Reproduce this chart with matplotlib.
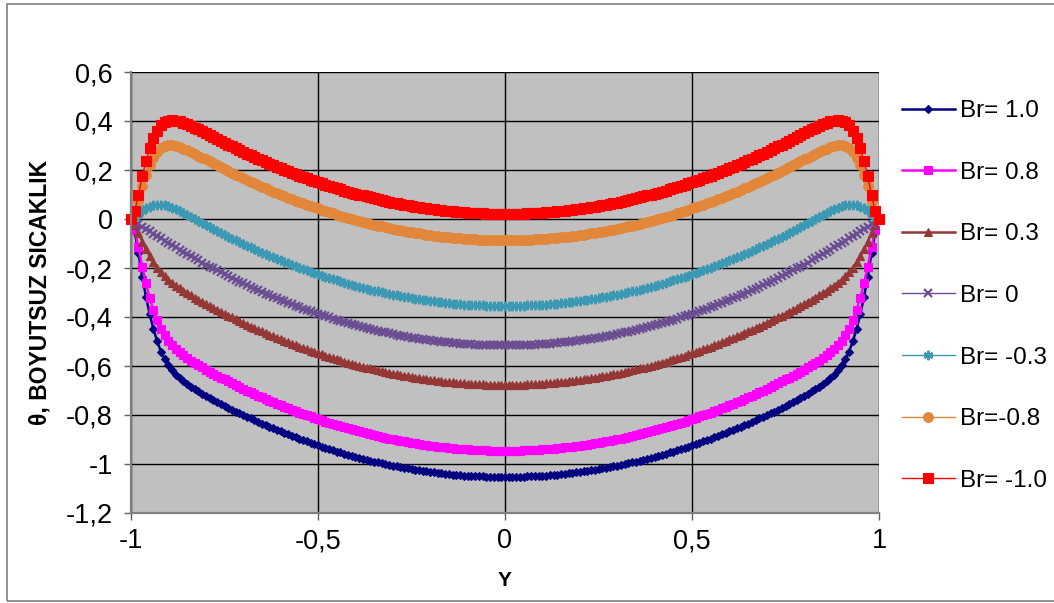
import numpy as np
import matplotlib
matplotlib.use("Agg")
import matplotlib.pyplot as plt
from matplotlib.patches import Rectangle

# Y positions of the computed points (step 0.01 from -1 to 1)
Y = np.round(np.linspace(-1.0, 1.0, 201), 2)

# Read values for Y = -1.00 ... 0.00 (profiles are symmetric about Y = 0)
br_1_0 = [0, -0.053, -0.139, -0.235, -0.317, -0.389, -0.449, -0.499, -0.541, -0.572,
          -0.597, -0.618, -0.635, -0.649, -0.662, -0.673, -0.684, -0.694, -0.704, -0.713,
          -0.722, -0.731, -0.739, -0.747, -0.755, -0.763, -0.770, -0.778, -0.786, -0.793,
          -0.800, -0.807, -0.814, -0.821, -0.828, -0.835, -0.842, -0.848, -0.855, -0.861,
          -0.867, -0.873, -0.879, -0.885, -0.891, -0.897, -0.903, -0.908, -0.914, -0.919,
          -0.924, -0.929, -0.934, -0.939, -0.944, -0.949, -0.953, -0.958, -0.962, -0.966,
          -0.970, -0.975, -0.979, -0.982, -0.986, -0.990, -0.993, -0.997, -1.000, -1.003,
          -1.007, -1.010, -1.013, -1.015, -1.018, -1.021, -1.023, -1.026, -1.028, -1.030,
          -1.032, -1.034, -1.036, -1.038, -1.040, -1.041, -1.043, -1.044, -1.046, -1.047,
          -1.048, -1.049, -1.050, -1.051, -1.051, -1.052, -1.052, -1.053, -1.053, -1.053,
          -1.053]
br_0_8 = [0, -0.045, -0.115, -0.194, -0.262, -0.321, -0.372, -0.413, -0.449, -0.475,
          -0.498, -0.516, -0.531, -0.544, -0.556, -0.567, -0.578, -0.588, -0.597, -0.606,
          -0.615, -0.624, -0.632, -0.640, -0.648, -0.655, -0.663, -0.671, -0.678, -0.686,
          -0.693, -0.700, -0.707, -0.714, -0.721, -0.728, -0.734, -0.741, -0.747, -0.754,
          -0.760, -0.766, -0.772, -0.778, -0.784, -0.790, -0.795, -0.801, -0.806, -0.811,
          -0.817, -0.822, -0.827, -0.832, -0.836, -0.841, -0.846, -0.850, -0.855, -0.859,
          -0.863, -0.867, -0.871, -0.875, -0.879, -0.882, -0.886, -0.889, -0.893, -0.896,
          -0.899, -0.902, -0.905, -0.908, -0.911, -0.913, -0.916, -0.918, -0.921, -0.923,
          -0.925, -0.927, -0.929, -0.931, -0.932, -0.934, -0.936, -0.937, -0.938, -0.939,
          -0.940, -0.941, -0.942, -0.943, -0.944, -0.944, -0.945, -0.945, -0.945, -0.946,
          -0.946]
br_0_3 = [0, -0.023, -0.056, -0.092, -0.124, -0.152, -0.177, -0.199, -0.218, -0.234,
          -0.248, -0.260, -0.272, -0.283, -0.293, -0.302, -0.312, -0.321, -0.330, -0.338,
          -0.347, -0.355, -0.363, -0.371, -0.379, -0.387, -0.395, -0.402, -0.410, -0.417,
          -0.424, -0.431, -0.439, -0.446, -0.452, -0.459, -0.466, -0.472, -0.479, -0.485,
          -0.491, -0.498, -0.504, -0.510, -0.515, -0.521, -0.527, -0.532, -0.538, -0.543,
          -0.548, -0.553, -0.558, -0.563, -0.568, -0.573, -0.577, -0.582, -0.586, -0.590,
          -0.595, -0.599, -0.603, -0.607, -0.610, -0.614, -0.618, -0.621, -0.624, -0.628,
          -0.631, -0.634, -0.637, -0.640, -0.642, -0.645, -0.647, -0.650, -0.652, -0.654,
          -0.657, -0.659, -0.660, -0.662, -0.664, -0.666, -0.667, -0.668, -0.670, -0.671,
          -0.672, -0.673, -0.674, -0.675, -0.675, -0.676, -0.676, -0.677, -0.677, -0.677,
          -0.677]
br_0 = [0, -0.010, -0.020, -0.031, -0.041, -0.050, -0.060, -0.070, -0.079, -0.089,
        -0.098, -0.107, -0.116, -0.125, -0.134, -0.143, -0.152, -0.161, -0.169, -0.178,
        -0.186, -0.194, -0.202, -0.210, -0.218, -0.226, -0.233, -0.241, -0.249, -0.256,
        -0.263, -0.270, -0.277, -0.284, -0.291, -0.298, -0.305, -0.311, -0.318, -0.324,
        -0.330, -0.336, -0.342, -0.348, -0.354, -0.360, -0.366, -0.371, -0.377, -0.382,
        -0.387, -0.392, -0.397, -0.402, -0.407, -0.412, -0.416, -0.421, -0.425, -0.429,
        -0.433, -0.438, -0.442, -0.445, -0.449, -0.453, -0.456, -0.460, -0.463, -0.466,
        -0.470, -0.473, -0.476, -0.478, -0.481, -0.484, -0.486, -0.489, -0.491, -0.493,
        -0.495, -0.497, -0.499, -0.501, -0.503, -0.504, -0.506, -0.507, -0.509, -0.510,
        -0.511, -0.512, -0.513, -0.514, -0.514, -0.515, -0.515, -0.516, -0.516, -0.516,
        -0.516]
br_m0_3 = [0, 0.003, 0.015, 0.031, 0.043, 0.051, 0.057, 0.059, 0.059, 0.056,
           0.052, 0.046, 0.039, 0.032, 0.024, 0.016, 0.008, 0.000, -0.009, -0.017,
           -0.025, -0.033, -0.041, -0.049, -0.057, -0.065, -0.072, -0.080, -0.087, -0.095,
           -0.102, -0.109, -0.116, -0.123, -0.130, -0.137, -0.144, -0.150, -0.157, -0.163,
           -0.169, -0.175, -0.181, -0.187, -0.193, -0.199, -0.204, -0.210, -0.215, -0.221,
           -0.226, -0.231, -0.236, -0.241, -0.246, -0.250, -0.255, -0.260, -0.264, -0.268,
           -0.272, -0.276, -0.280, -0.284, -0.288, -0.292, -0.295, -0.299, -0.302, -0.305,
           -0.309, -0.312, -0.314, -0.317, -0.320, -0.323, -0.325, -0.328, -0.330, -0.332,
           -0.334, -0.336, -0.338, -0.340, -0.342, -0.343, -0.345, -0.346, -0.348, -0.349,
           -0.350, -0.351, -0.352, -0.352, -0.353, -0.354, -0.354, -0.354, -0.355, -0.355,
           -0.355]
br_m0_8 = [0, 0.024, 0.074, 0.133, 0.181, 0.220, 0.251, 0.274, 0.290, 0.298,
           0.302, 0.301, 0.298, 0.294, 0.287, 0.281, 0.274, 0.267, 0.259, 0.251,
           0.243, 0.236, 0.228, 0.220, 0.212, 0.204, 0.196, 0.189, 0.181, 0.174,
           0.166, 0.159, 0.152, 0.145, 0.138, 0.132, 0.125, 0.118, 0.112, 0.106,
           0.099, 0.093, 0.087, 0.081, 0.075, 0.070, 0.064, 0.059, 0.053, 0.048,
           0.043, 0.038, 0.033, 0.028, 0.023, 0.018, 0.014, 0.009, 0.005, 0.000,
           -0.004, -0.008, -0.012, -0.016, -0.020, -0.023, -0.027, -0.030, -0.034, -0.037,
           -0.040, -0.043, -0.046, -0.049, -0.052, -0.054, -0.057, -0.059, -0.061, -0.064,
           -0.066, -0.068, -0.070, -0.072, -0.073, -0.075, -0.076, -0.078, -0.079, -0.080,
           -0.081, -0.082, -0.083, -0.084, -0.085, -0.085, -0.086, -0.086, -0.086, -0.086,
           -0.086]
br_m1_0 = [0, 0.033, 0.098, 0.174, 0.236, 0.288, 0.329, 0.360, 0.383, 0.395,
           0.401, 0.403, 0.402, 0.398, 0.393, 0.387, 0.380, 0.373, 0.366, 0.358,
           0.351, 0.343, 0.335, 0.327, 0.319, 0.311, 0.304, 0.296, 0.289, 0.281,
           0.274, 0.267, 0.260, 0.253, 0.246, 0.239, 0.232, 0.226, 0.219, 0.213,
           0.207, 0.201, 0.195, 0.189, 0.183, 0.177, 0.171, 0.166, 0.161, 0.155,
           0.150, 0.145, 0.140, 0.135, 0.130, 0.126, 0.121, 0.116, 0.112, 0.108,
           0.104, 0.100, 0.096, 0.092, 0.088, 0.084, 0.081, 0.077, 0.074, 0.071,
           0.067, 0.064, 0.062, 0.059, 0.056, 0.053, 0.051, 0.048, 0.046, 0.044,
           0.042, 0.040, 0.038, 0.036, 0.034, 0.033, 0.031, 0.030, 0.028, 0.027,
           0.026, 0.025, 0.024, 0.024, 0.023, 0.022, 0.022, 0.021, 0.021, 0.021,
           0.021]

labels = ["Br= 1.0", "Br= 0.8", "Br= 0.3", "Br= 0", "Br= -0.3", "Br=-0.8", "Br= -1.0"]
halves = [br_1_0, br_0_8, br_0_3, br_0, br_m0_3, br_m0_8, br_m1_0]

xticks = [-1, -0.5, 0, 0.5, 1]
xticklabels = ["-1", "-0,5", "0", "0,5", "1"]
yticks = [-1.2, -1.0, -0.8, -0.6, -0.4, -0.2, 0, 0.2, 0.4, 0.6]
yticklabels = ["-1,2", "-1", "-0,8", "-0,6", "-0,4", "-0,2", "0", "0,2", "0,4", "0,6"]

styles = [
    dict(color="#000080", marker="D", ms=4.5, lw=1.8, mew=0.8),
    dict(color="#FF00FF", marker="s", ms=5.6, lw=1.8, mew=0.8),
    dict(color="#953735", marker="^", ms=6.2, lw=1.8, mew=0.8),
    dict(color="#6B4E92", marker="x", ms=6.4, lw=1.0, mew=1.6),
    dict(color="#3C99B4", marker=(6, 2, 0), ms=6.8, lw=1.0, mew=1.6),
    dict(color="#E2863A", marker="o", ms=7.0, lw=1.0, mew=0.8),
    dict(color="#FF0000", marker="s", ms=7.2, lw=1.0, mew=0.8),
]

plt.rcParams["font.family"] = ["Liberation Sans", "DejaVu Sans"]

W, H = 1054, 603
fig = plt.figure(figsize=(W / 100, H / 100), dpi=100)
fig.patch.set_facecolor("white")

L, R, T, B = 131, 879, 72, 513
ax = fig.add_axes([L / W, 1 - B / H, (R - L) / W, (B - T) / H])
ax.set_facecolor("#C0C0C0")

for half, lab, st in zip(halves, labels, styles):
    full = list(half) + list(half[-2::-1])
    ax.plot(Y, full, label=lab, color=st["color"], marker=st["marker"],
            markersize=st["ms"], linewidth=st["lw"], markeredgewidth=st["mew"],
            markeredgecolor=st["color"], markerfacecolor=st["color"], clip_on=False)

ax.set_xlim(-1, 1)
ax.set_ylim(-1.2, 0.6)
ax.set_xticks(xticks)
ax.set_xticklabels(xticklabels)
ax.set_yticks(yticks)
ax.set_yticklabels(yticklabels)
ax.grid(True, color="black", linewidth=1.0)
ax.set_axisbelow(True)
for s in ["top", "right"]:
    ax.spines[s].set_visible(False)
for s in ["left", "bottom"]:
    ax.spines[s].set_color("#808080")
    ax.spines[s].set_linewidth(1.6)
ax.tick_params(axis="both", direction="out", length=5, width=1.0, color="#606060",
               labelsize=19.5, labelcolor="black")
ax.tick_params(axis="y", pad=8)
ax.tick_params(axis="x", pad=6)

ax.set_xlabel("Y", fontsize=15, fontweight="bold", labelpad=12)
ax.set_ylabel("θ, BOYUTSUZ SICAKLIK", fontsize=16.5, fontweight="bold", labelpad=10)

leg = ax.legend(loc="center left", bbox_to_anchor=(902 / W, 1 - 296 / H),
                bbox_transform=fig.transFigure, frameon=False, fontsize=17.5,
                handlelength=2.18, handletextpad=0.2, labelspacing=1.63,
                borderpad=0, borderaxespad=0, markerscale=1.0)

fig.patches.append(Rectangle((6.7 / W, 1 - 600.7 / H), 1.2, (600.7 - 3.5) / H,
                             transform=fig.transFigure, fill=False,
                             edgecolor="#808080", linewidth=1.2))

fig.savefig("out.png", dpi=100)
